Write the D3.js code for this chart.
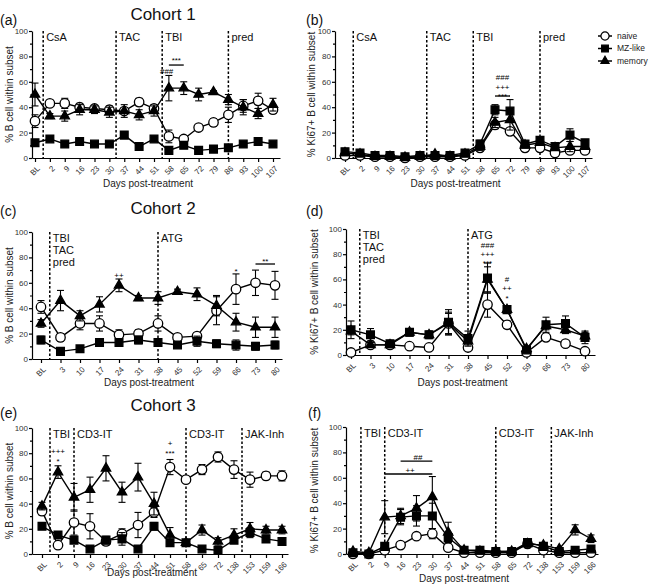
<!DOCTYPE html>
<html>
<head>
<style>
  body { margin: 0; background: #fff; }
  svg { font-family: "Liberation Sans", Arial, sans-serif; }
  .axis path, .axis line { stroke: #000; stroke-width: 1.2; }
  .axis text { font-size: 8px; fill: #333; }
  .series path.ln { fill: none; stroke: #000; stroke-width: 1.4; }
  .err { stroke: #000; stroke-width: 1.1; }
  .marker-line { stroke: #000; stroke-width: 1.5; stroke-dasharray: 2.5,2; }
  .mlabel { font-size: 11px; fill: #111; }
  .ytitle, .xtitle { font-size: 10px; fill: #222; }
  .title { font-size: 17px; fill: #111; }
  .letter { font-size: 14px; fill: #111; }
  .annot { font-size: 8px; text-anchor: middle; }
  .legend text { font-size: 8.5px; fill: #222; }
</style>
<script src="https://d3js.org/d3.v7.min.js"></script>
</head>
<body>
<svg width="650" height="586"></svg>
<script>
// ---- cohort 1 ----
var days1 = ["BL","2","9","16","23","30","37","44","51","58","65","72","79","86","93","100","107"];
var aNaive    = [29,43,43,40,39,38,37,44,39,17,15,24,28,34,41,45,38];
var aNaiveErr = [5,2,4,3,2,3,2,3,3,5,2,1,3,6,5,6,3];
var aMZ       = [12,15,11,13,11,11,18,9,15,6,10,6,7,8,11,13,11];
var aMZErr    = [2,1,1,1,1,1,2,1,1,1,1,1,1,1,1,1,1];
var aMem      = [50,33,33,38,38,36,37,34,37,55,55,50,52,46,40,35,42];
var aMemErr   = [9,2,4,4,3,4,5,4,4,10,5,5,1,4,6,4,5];

var bNaive    = [2,2,1,1,0,1,1,1,2,8,26,21,8,8,4,6,6];
var bNaiveErr = [1,1,0,0,0,0,0,0,1,1,3,1,1,1,1,2,1];
var bMZ       = [5,4,2,2,1,2,2,2,4,11,38,37,11,14,9,18,12];
var bMZErr    = [2,1,1,1,1,1,1,1,1,3,4,9,2,2,1,5,2];
var bMem      = [4,3,1,1,0.5,1,3,1,3,9,28,30,10,12,8,9,9];
var bMemErr   = [2,1,1,1,0,1,2,1,2,3,4,8,2,2,1,4,2];

// ---- cohort 2 ----
var days2 = ["BL","3","10","17","24","31","38","45","52","59","66","73","80"];
var cNaive    = [41,17,28,28,19,20,28,17,18,38,55,60,58];
var cNaiveErr = [5,3,5,6,4,3,6,1,1,11,12,10,11];
var cMZ       = [15,6,8,13,13,15,13,11,14,12,11,10,11];
var cMZErr    = [3,1,1,2,3,3,3,2,4,3,4,3,3];
var cMem      = [28,46,34,43,58,48,48,53,51,42,29,25,25];
var cMemErr   = [3,8,4,6,5,2,5,2,5,8,7,8,8];

var dNaive    = [2,8,8,7,6,25,6,40,24,2,14,9,3];
var dNaiveErr = [0,1,1,1,0,8,1,10,3,0,1,1,1];
var dMZ       = [20,16,9,18,16,26,13,61,36,4,24,25,14];
var dMZErr    = [7,5,2,3,3,10,6,12,2,2,6,6,5];
var dMem      = [19,8,8,18,16,25,11,60,36,5,23,20,15];
var dMemErr   = [3,2,1,2,2,9,3,10,2,1,3,3,3];

// ---- cohort 3 ----
var days3 = ["BL","2","9","16","23","30","37","44","51","58","65","72","138","153","159","166"];
var eNaive    = [34,7,25,22,10,16,23,33,69,59,67,77,67,59,62,62];
var eNaiveErr = [3,2,10,10,3,4,10,4,6,2,4,4,7,6,3,4];
var eMZ       = [22,15,11,4,11,12,4,22,9,9,4,3,11,17,12,10];
var eMZErr    = [2,1,1,1,3,5,1,3,1,1,1,1,2,4,1,1];
var eMem      = [38,65,45,51,68,49,61,40,15,9,19,10,15,20,19,19];
var eMemErr   = [3,5,11,10,10,8,11,9,6,1,4,3,5,5,3,3];

var fNaive    = [0,0,3,7,14,16,5,1,1,1,1,8,3,1,1,1];
var fNaiveErr = [0,0,1,1,2,4,1,0,0,0,0,1,1,0,0,0];
var fMZ       = [1,0,6,29,30,30,13,3,3,2,2,9,6,2,3,4];
var fMZErr    = [1,0,3,6,8,10,4,1,1,1,1,2,1,1,1,1];
var fMem      = [2,1,29,30,36,45,17,3,2,2,2,8,7,4,19,12];
var fMemErr   = [1,0,13,6,10,16,8,1,1,1,1,3,2,1,4,3];

// treatment markers (position in tick-index units)
var markers1 = [{at:0.55, lab:["CsA"]}, {at:5.45, lab:["TAC"]}, {at:8.55, lab:["TBI"]}, {at:13, lab:["pred"]}];
var markers2 = [{at:0.45, lab:["TBI","TAC","pred"]}, {at:6, lab:["ATG"]}];
var markers3 = [{at:0.5, lab:["TBI"]}, {at:2, lab:["CD3-IT"]}, {at:9, lab:["CD3-IT"]}, {at:12.5, lab:["JAK-Inh"]}];

// significance marks (index, value) and brackets
var aStars = [{t:"***", i:9.5, v:79.5}, {t:"###", i:8.85, v:68.5}];
var aBars  = [{i0:9, i1:10, v:73.2}];
var bStars = [{t:"###", i:10.5, v:63.6}, {t:"+++", i:10.5, v:56.1}, {t:"***", i:10.5, v:51.2}];
var bBars  = [{i0:10, i1:11, v:48.8}];
var cStars = [{t:"++", i:4, v:66}, {t:"*", i:10, v:71.7}, {t:"**", i:11.5, v:79.5}];
var cBars  = [{i0:11, i1:12, v:74.8}];
var dStars = [{t:"###", i:7, v:87.1}, {t:"+++", i:7, v:80}, {t:"***", i:7, v:75.4},
              {t:"#", i:8, v:60.2}, {t:"++", i:8, v:53}, {t:"*", i:8, v:47.6}];
var dBars  = [];
var eStars = [{t:"+++", i:1, v:81.7}, {t:"*", i:1, v:76.2}, {t:"+", i:8, v:88.1}, {t:"***", i:8, v:82.5}];
var eBars  = [];
var fStars = [{t:"##", i:4.1, v:76.4}, {t:"++", i:3.6, v:66.1}];
var fBars  = [{i0:3, i1:5, v:73.2}, {i0:2, i1:5, v:63}];

var svg = d3.select("svg");

var panels = [
  {days:days1, s:[aNaive,aMZ,aMem], e:[aNaiveErr,aMZErr,aMemErr], m:markers1, stars:aStars, bars:aBars,
   ax0:32, px0:35, px1:273, ax1:280, top:31, bot:158, ytl:"% B cell within subset", ytx:9, xty:187},
  {days:days1, s:[bNaive,bMZ,bMem], e:[bNaiveErr,bMZErr,bMemErr], m:markers1, stars:bStars, bars:bBars,
   ax0:335, px0:345, px1:585, ax1:592, top:31, bot:158, ytl:"% Ki67+ B cell within subset", ytx:311, xty:187},
  {days:days2, s:[cNaive,cMZ,cMem], e:[cNaiveErr,cMZErr,cMemErr], m:markers2, stars:cStars, bars:cBars,
   ax0:32, px0:41, px1:275, ax1:282, top:232, bot:359, ytl:"% B cell within subset", ytx:9, xty:386},
  {days:days2, s:[dNaive,dMZ,dMem], e:[dNaiveErr,dMZErr,dMemErr], m:markers2, stars:dStars, bars:dBars,
   ax0:346, px0:351, px1:585, ax1:595, top:229, bot:355, ytl:"% Ki67+ B cell within subset", ytx:314, xty:386},
  {days:days3, s:[eNaive,eMZ,eMem], e:[eNaiveErr,eMZErr,eMemErr], m:markers3, stars:eStars, bars:eBars,
   ax0:32, px0:42, px1:282, ax1:288, top:428, bot:554, ytl:"% B cell within subset", ytx:9, xty:576},
  {days:days3, s:[fNaive,fMZ,fMem], e:[fNaiveErr,fMZErr,fMemErr], m:markers3, stars:fStars, bars:fBars,
   ax0:346, px0:353, px1:591, ax1:598, top:427, bot:554, ytl:"% Ki67+ B cell within subset", ytx:314, xty:582}
];

var symbols = [
  {type:d3.symbolCircle, size:70, fill:"#fff"},
  {type:d3.symbolSquare, size:60, fill:"#000"},
  {type:d3.symbolTriangle, size:38, fill:"#000"}
];

function drawPanel(p) {
  var n = p.days.length;
  var step = (p.px1 - p.px0) / (n - 1);
  var x = d3.scaleLinear()
            .domain([-(p.px0 - p.ax0) / step, n - 1 + (p.ax1 - p.px1) / step])
            .range([p.ax0, p.ax1]);
  var y = d3.scaleLinear().domain([0, 100]).range([p.bot, p.top]);

  var g = svg.append("g");

  // axes
  g.append("g").attr("class", "axis")
   .attr("transform", "translate(" + p.ax0 + ",0)")
   .call(d3.axisLeft(y).tickValues([0,20,40,60,80,100]).tickSize(3).tickPadding(1).tickSizeOuter(0));
  g.append("g").attr("class", "axis")
   .attr("transform", "translate(" + p.ax0 + ",0)")
   .call(d3.axisLeft(y).tickValues([10,30,50,70,90]).tickSize(2).tickFormat("").tickSizeOuter(0))
   .select(".domain").remove();

  var xa = g.append("g").attr("class", "axis")
   .attr("transform", "translate(0," + p.bot + ")")
   .call(d3.axisBottom(x).tickValues(d3.range(n)).tickFormat(function(i) { return p.days[i]; })
          .tickSize(4).tickSizeOuter(0));
  xa.selectAll("text")
    .attr("x", 0).attr("y", 0).attr("dy", "0.35em")
    .attr("transform", "translate(3,9) rotate(-45)")
    .style("text-anchor", "end");

  g.append("text").attr("class", "xtitle")
   .attr("x", (p.ax0 + p.ax1) / 2 - 8).attr("y", p.xty)
   .attr("text-anchor", "middle").text("Days post-treatment");
  g.append("text").attr("class", "ytitle")
   .attr("transform", "translate(" + p.ytx + "," + (p.top + p.bot) / 2 + ") rotate(-90)")
   .attr("dy", "0.35em").attr("text-anchor", "middle").text(p.ytl);

  // treatment lines
  p.m.forEach(function(mk) {
    var xx = x(mk.at);
    g.append("line").attr("class", "marker-line")
     .attr("x1", xx).attr("x2", xx).attr("y1", p.top).attr("y2", p.bot);
    mk.lab.forEach(function(t, k) {
      g.append("text").attr("class", "mlabel")
       .attr("x", xx + 3).attr("y", p.top + 9.5 + k * 12).text(t);
    });
  });

  // series
  p.s.forEach(function(vals, si) {
    var errs = p.e[si];
    var sg = g.append("g").attr("class", "series");
    sg.append("path").attr("class", "ln")
      .attr("d", d3.line().x(function(d, i) { return x(i); }).y(function(d) { return y(d); })(vals));
    vals.forEach(function(v, i) {
      var e = errs[i];
      if (e <= 0) return;
      var xx = x(i);
      sg.append("line").attr("class", "err").attr("x1", xx).attr("x2", xx)
        .attr("y1", y(Math.max(0, v - e))).attr("y2", y(v + e));
      [v + e, Math.max(0, v - e)].forEach(function(c) {
        sg.append("line").attr("class", "err")
          .attr("x1", xx - 3.5).attr("x2", xx + 3.5).attr("y1", y(c)).attr("y2", y(c));
      });
    });
    var sym = symbols[si];
    sg.selectAll("path.pt").data(vals).enter().append("path")
      .attr("class", "pt")
      .attr("d", d3.symbol().type(sym.type).size(sym.size))
      .attr("transform", function(d, i) { return "translate(" + x(i) + "," + y(d) + ")"; })
      .attr("fill", sym.fill).attr("stroke", "#000").attr("stroke-width", 1.3);
  });

  // significance
  p.bars.forEach(function(b) {
    g.append("line").attr("stroke", "#000").attr("stroke-width", 1.3)
     .attr("x1", x(b.i0)).attr("x2", x(b.i1)).attr("y1", y(b.v)).attr("y2", y(b.v));
  });
  p.stars.forEach(function(s) {
    g.append("text").attr("class", "annot").attr("fill", "#000")
     .attr("x", x(s.i)).attr("y", y(s.v))
     .attr("dy", s.t.charAt(0) === "*" ? "0.75em" : "0.35em")
     .text(s.t);
  });
}

panels.forEach(drawPanel);

// titles and panel letters
var titles = [{t:"Cohort 1", y:20}, {t:"Cohort 2", y:214}, {t:"Cohort 3", y:411}];
titles.forEach(function(d) {
  svg.append("text").attr("class", "title").attr("x", 163).attr("y", d.y)
     .attr("text-anchor", "middle").text(d.t);
});
var letters = [{t:"(a)", x:0, y:25}, {t:"(b)", x:306, y:25}, {t:"(c)", x:0, y:216},
               {t:"(d)", x:306, y:216}, {t:"(e)", x:0, y:418}, {t:"(f)", x:308, y:418}];
letters.forEach(function(d) {
  svg.append("text").attr("class", "letter").attr("x", d.x).attr("y", d.y).text(d.t);
});

// legend
var legendNames = ["naive", "MZ-like", "memory"];
var lg = svg.append("g").attr("class", "legend").attr("transform", "translate(605,36)");
legendNames.forEach(function(name, k) {
  var row = lg.append("g").attr("transform", "translate(0," + k * 12.5 + ")");
  row.append("line").attr("x1", -7).attr("x2", 7).attr("stroke", "#000").attr("stroke-width", 1.5);
  row.append("path").attr("d", d3.symbol().type(symbols[k].type).size(symbols[k].size * 0.75))
     .attr("fill", symbols[k].fill).attr("stroke", "#000").attr("stroke-width", 1.2);
  row.append("text").attr("x", 12).attr("dy", "0.35em").text(name);
});
</script>
</body>
</html>
